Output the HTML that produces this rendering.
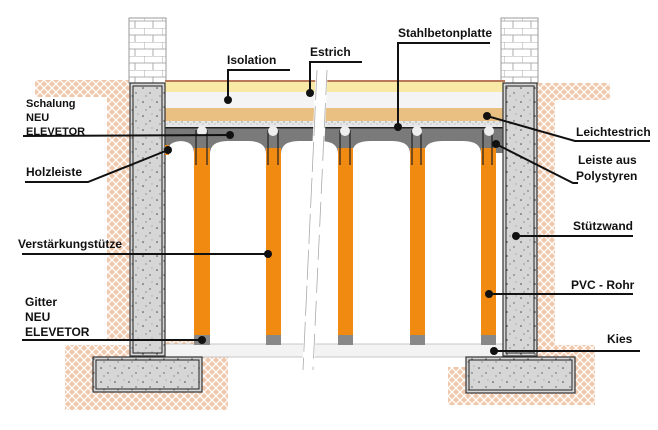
<!DOCTYPE html>
<html><head><meta charset="utf-8"><style>
html,body{margin:0;padding:0;background:#fff;width:658px;height:430px;overflow:hidden}
svg{display:block}
text{font-family:"Liberation Sans",Arial,sans-serif;font-weight:bold;font-size:12px;fill:#111}
</style></head><body>
<svg width="658" height="430" viewBox="0 0 658 430" xmlns="http://www.w3.org/2000/svg">
<defs>
<pattern id="soil" width="8" height="8" patternUnits="userSpaceOnUse">
<rect width="8" height="8" fill="#f0c8ac"/>
<path d="M0 4 L4 0 M4 8 L8 4 M0 4 L4 8 M4 0 L8 4" stroke="#fff" stroke-width="1.3" fill="none"/>
</pattern>
<pattern id="conc" width="14" height="14" patternUnits="userSpaceOnUse">
<rect width="14" height="14" fill="#d6d6d6"/>
<circle cx="3" cy="4" r="0.8" fill="#444"/><circle cx="10" cy="9" r="0.7" fill="#555"/><circle cx="6" cy="12" r="0.6" fill="#666"/><circle cx="12" cy="2" r="0.5" fill="#777"/>
</pattern>
<pattern id="brick" width="18" height="14" patternUnits="userSpaceOnUse">
<rect width="18" height="14" fill="#fff"/>
<path d="M0 0H18M0 7H18M0 0V7M9 7V14" stroke="#999" stroke-width="0.8"/>
</pattern>
<pattern id="grav" width="6" height="6" patternUnits="userSpaceOnUse">
<rect width="6" height="6" fill="#e6e6e6"/><circle cx="2" cy="2" r="0.8" fill="#999"/><circle cx="5" cy="4" r="0.6" fill="#aaa"/>
</pattern>
</defs>
<path d="M35 80 H130 V355 H93 V410 H228 V367 H202 V340 H107 V97 H35 Z" fill="url(#soil)"/>
<rect x="65" y="345" width="163" height="65" fill="url(#soil)"/>
<path d="M537 83 H610 V100 H555 V345 H595 V405 H448 V367 H466 V345 H537 Z" fill="url(#soil)"/>
<rect x="129" y="18" width="37" height="65" fill="url(#brick)" stroke="#999"/>
<rect x="501" y="18" width="37" height="65" fill="url(#brick)" stroke="#999"/>
<rect x="165" y="344" width="340" height="13" fill="#f3f3f3" stroke="#bbb" stroke-width="0.8"/>
<rect x="165" y="80" width="340" height="2" fill="#b9785a"/>
<rect x="165" y="82" width="340" height="10" fill="#f8e9a6"/>
<rect x="165" y="92" width="340" height="16" fill="#f4f4f4"/>
<rect x="165" y="108" width="340" height="14" fill="#e9bf82"/>
<rect x="165" y="121" width="340" height="7" fill="url(#grav)"/>
<rect x="165" y="127" width="340" height="26" fill="#7a7a7a"/>
<g fill="#fff">
<path d="M167 154 Q167 141 182 141 L180 141 Q194 141 194 154 Z"/>
<path d="M210 154 Q210 141 228 141 L248 141 Q266 141 266 154 Z"/>
<path d="M281 154 Q281 141 299 141 L320 141 Q338 141 338 154 Z"/>
<path d="M352 154 Q352 141 370 141 L392 141 Q410 141 410 154 Z"/>
<path d="M424 154 Q424 141 442 141 L463 141 Q481 141 481 154 Z"/>
</g>
<rect x="165" y="127" width="340" height="1.5" fill="#222"/>
<g>
<rect x="194" y="148" width="16" height="187" fill="#f08a10"/><rect x="194" y="335" width="16" height="10" fill="#888"/>
<rect x="266" y="148" width="15" height="187" fill="#f08a10"/><rect x="266" y="335" width="15" height="10" fill="#888"/>
<rect x="338" y="148" width="15" height="187" fill="#f08a10"/><rect x="338" y="335" width="15" height="10" fill="#888"/>
<rect x="410" y="148" width="15" height="187" fill="#f08a10"/><rect x="410" y="335" width="15" height="10" fill="#888"/>
<rect x="481" y="148" width="15" height="187" fill="#f08a10"/><rect x="481" y="335" width="15" height="10" fill="#888"/>
</g>
<g stroke="#222" stroke-width="1.2">
<line x1="207" y1="130" x2="207" y2="165"/><line x1="278" y1="130" x2="278" y2="165"/><line x1="350" y1="130" x2="350" y2="165"/><line x1="421" y1="130" x2="421" y2="165"/><line x1="492" y1="130" x2="492" y2="165"/>
<line x1="196" y1="130" x2="196" y2="165"/><line x1="268" y1="130" x2="268" y2="165"/><line x1="340" y1="130" x2="340" y2="165"/><line x1="412" y1="130" x2="412" y2="165"/><line x1="483" y1="130" x2="483" y2="165"/>
</g>
<g fill="#eee"><circle cx="202" cy="131" r="5"/><circle cx="273" cy="131" r="5"/><circle cx="345" cy="131" r="5"/><circle cx="417" cy="131" r="5"/><circle cx="489" cy="131" r="5"/></g>
<path d="M316 66 L328 66 L314 372 L302 372 Z" fill="#fff"/>
<line x1="317" y1="70" x2="303" y2="370" stroke="#aaa" stroke-width="0.8" stroke-dasharray="30 6"/>
<line x1="327" y1="70" x2="313" y2="370" stroke="#aaa" stroke-width="0.8" stroke-dasharray="25 8"/>
<rect x="130" y="83" width="35" height="273" fill="url(#conc)" stroke="#333" stroke-width="1.2"/>
<rect x="93" y="357" width="109" height="35" fill="url(#conc)" stroke="#333" stroke-width="1.2"/>
<rect x="503" y="83" width="34" height="273" fill="url(#conc)" stroke="#333" stroke-width="1.2"/>
<rect x="466" y="357" width="109" height="36" fill="url(#conc)" stroke="#333" stroke-width="1.2"/>
<g stroke="#222" stroke-width="1" fill="none">
<rect x="133" y="86" width="29" height="267"/><rect x="96" y="360" width="103" height="29"/>
<rect x="506" y="86" width="28" height="267"/><rect x="469" y="360" width="103" height="30"/>
</g>
<rect x="165" y="145" width="4" height="10" fill="#f08a10"/>
<g stroke="#111" stroke-width="2" fill="none">
<polyline points="290,70 228,70 228,100"/>
<polyline points="362,62 310,62 310,93"/>
<polyline points="490,43 398,43 398,127"/>
<polyline points="23,136 230,135"/>
<polyline points="25,182 88,182 168,150"/>
<line x1="22" y1="254" x2="268" y2="254"/>
<line x1="22" y1="340" x2="202" y2="340"/>
<polyline points="487,116 575,141 650,141"/>
<polyline points="496,144 573,183 578,183"/>
<line x1="516" y1="236" x2="633" y2="236"/>
<line x1="489" y1="294" x2="633" y2="294"/>
<line x1="494" y1="351" x2="640" y2="351"/>
</g>
<g fill="#111">
<circle cx="228" cy="100" r="4"/><circle cx="310" cy="93" r="4"/><circle cx="398" cy="127" r="4"/><circle cx="230" cy="135" r="4"/><circle cx="168" cy="150" r="4"/><circle cx="268" cy="254" r="4"/><circle cx="202" cy="340" r="4"/><circle cx="487" cy="116" r="4"/><circle cx="496" cy="144" r="4"/><circle cx="516" cy="236" r="4"/><circle cx="489" cy="294" r="4"/><circle cx="494" cy="351" r="4"/>
</g>
<text x="227" y="64">Isolation</text>
<text x="310" y="56">Estrich</text>
<text x="398" y="37">Stahlbetonplatte</text>
<text x="26" y="107" style="font-size:11px">Schalung</text>
<text x="26" y="121" style="font-size:11px">NEU</text>
<text x="26" y="135" style="font-size:11px">ELEVETOR</text>
<text x="26" y="176">Holzleiste</text>
<text x="18" y="248">Verstärkungstütze</text>
<text x="25" y="306">Gitter</text>
<text x="25" y="321">NEU</text>
<text x="25" y="336">ELEVETOR</text>
<text x="576" y="136">Leichtestrich</text>
<text x="578" y="164">Leiste aus</text>
<text x="576" y="180">Polystyren</text>
<text x="573" y="230">Stützwand</text>
<text x="571" y="289">PVC - Rohr</text>
<text x="607" y="343">Kies</text>
</svg>
</body></html>
